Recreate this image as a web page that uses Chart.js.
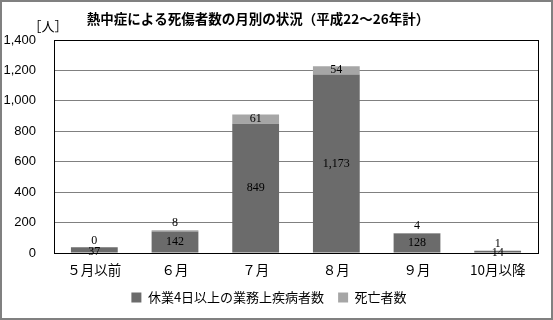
<!DOCTYPE html>
<html>
<head>
<meta charset="utf-8">
<script src="https://cdn.jsdelivr.net/npm/chart.js@4"></script>
<style>
  html, body { margin: 0; padding: 0; background: #fff; }
</style>
</head>
<body>
<canvas id="heatChart" width="553" height="320"></canvas>
<script>
const months = ['５月以前', '６月', '７月', '８月', '９月', '10月以降'];
const injured = [37, 142, 849, 1173, 128, 14];
const deaths = [0, 8, 61, 54, 4, 1];
const yTicks = [0, 200, 400, 600, 800, 1000, 1200, 1400];

const JP = '"Noto Sans CJK JP", "Noto Sans", sans-serif';

// frame, title, unit label and per-bar value labels
const decorPlugin = {
    id: 'decor',
    beforeDraw(chart) {
        const ctx = chart.ctx;
        ctx.save();
        ctx.fillStyle = '#fff';
        ctx.fillRect(0, 0, chart.width, chart.height);
        ctx.strokeStyle = '#808080';
        ctx.lineWidth = 2;
        ctx.strokeRect(1, 1, chart.width - 2, chart.height - 2);
        ctx.fillStyle = '#000';
        ctx.textBaseline = 'middle';
        ctx.textAlign = 'center';
        ctx.font = 'bold 13.5px ' + JP;
        ctx.fillText('熱中症による死傷者数の月別の状況（平成22～26年計）', 258, 19);
        ctx.font = '13px ' + JP;
        ctx.fillText('［人］', 48, 26);
        ctx.restore();
    },
    afterDatasetsDraw(chart) {
        const ctx = chart.ctx;
        const area = chart.chartArea;
        ctx.save();
        ctx.strokeStyle = '#000';
        ctx.lineWidth = 1;
        ctx.strokeRect(Math.round(area.left) + 0.5, Math.round(area.top) + 0.5,
            Math.round(area.right - area.left), Math.round(area.bottom - area.top));
        ctx.fillStyle = '#000';
        ctx.font = '12px "Liberation Serif", "DejaVu Serif", serif';
        ctx.textAlign = 'center';
        ctx.textBaseline = 'middle';
        chart.data.datasets.forEach((ds, i) => {
            const meta = chart.getDatasetMeta(i);
            meta.data.forEach((bar, j) => {
                const top = Math.min(bar.y, bar.base);
                const bottom = Math.max(bar.y, bar.base);
                const h = bottom - top;
                let y = (top + bottom) / 2;
                if (i === 0 && h < 8) y += 1.5;
                if (i === 1) y = h < 6 ? top - 7 : top + 4;
                ctx.fillText(ds.data[j].toLocaleString('en-US'), bar.x, y);
            });
        });
        ctx.restore();
    }
};

const data = {
    labels: months,
    datasets: [
        {
            label: '休業4日以上の業務上疾病者数',
            data: injured,
            backgroundColor: '#6b6b6b',
            borderWidth: 0,
            categoryPercentage: 1,
            barPercentage: 0.58
        },
        {
            label: '死亡者数',
            data: deaths,
            backgroundColor: '#a6a6a6',
            borderWidth: 0,
            categoryPercentage: 1,
            barPercentage: 0.58
        }
    ]
};

const config = {
    type: 'bar',
    data: data,
    options: {
        responsive: false,
        animation: false,
        layout: { padding: { top: 40, right: 15, left: 0, bottom: 6 } },
        scales: {
            x: {
                stacked: true,
                grid: { display: false },
                border: { display: false },
                ticks: { color: '#000', font: { family: JP, size: 13.5 }, padding: 1 },
                afterFit(s) { s.height = 24; }
            },
            y: {
                stacked: true,
                min: 0,
                max: 1400,
                afterBuildTicks(s) { s.ticks = yTicks.map(v => ({ value: v })); },
                grid: { color: '#808080', drawTicks: false, lineWidth: 1 },
                border: { display: false },
                ticks: {
                    color: '#000',
                    padding: 18,
                    font: { family: '"Liberation Sans", Arial, sans-serif', size: 13 },
                    callback: v => v.toLocaleString('en-US')
                },
                afterFit(s) { s.width = 54; }
            }
        },
        plugins: {
            legend: {
                position: 'bottom',
                labels: {
                    color: '#000',
                    boxWidth: 10,
                    boxHeight: 10,
                    padding: 14,
                    font: { family: JP, size: 13 }
                }
            },
            tooltip: { enabled: false }
        }
    },
    plugins: [decorPlugin]
};

new Chart(document.getElementById('heatChart').getContext('2d'), config);
</script>
</body>
</html>
